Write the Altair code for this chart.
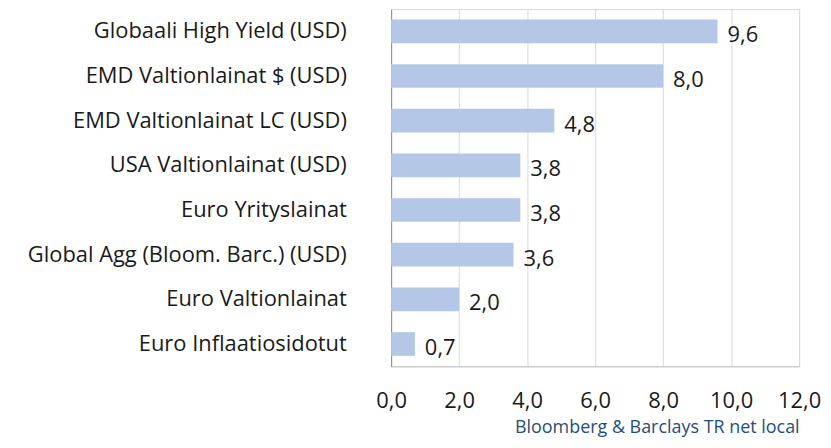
import altair as alt
import pandas as pd

categories = [
    "Globaali High Yield (USD)",
    "EMD Valtionlainat $ (USD)",
    "EMD Valtionlainat LC (USD)",
    "USA Valtionlainat (USD)",
    "Euro Yrityslainat",
    "Global Agg (Bloom. Barc.) (USD)",
    "Euro Valtionlainat",
    "Euro Inflaatiosidotut",
]
values = [9.6, 8.0, 4.8, 3.8, 3.8, 3.6, 2.0, 0.7]
x_ticks = [0, 2, 4, 6, 8, 10, 12]
source = "Bloomberg & Barclays TR net local"

df = pd.DataFrame({"cat": categories, "val": values})
FONT = "Open Sans"

base = alt.Chart(df).transform_calculate(
    lbl="replace(format(datum.val, '.1f'), '.', ',')"
)

y = alt.Y("cat:N", sort=categories, title=None,
          scale=alt.Scale(paddingInner=0.47, paddingOuter=0.235),
          axis=alt.Axis(labelFont=FONT, labelFontSize=22, labelColor="#1a1a1a",
                        labelPadding=45, ticks=False, domainColor="#8c8c8c",
                        labelLimit=400))

bars = base.mark_bar(color="#b4c7e7").encode(
    x=alt.X("val:Q", scale=alt.Scale(domain=[0, 12], nice=False),
            axis=alt.Axis(values=x_ticks, grid=True, gridColor="#d9d9d9",
                          ticks=False, domainColor="#bfbfbf", labelFlush=False,
                          labelOverlap=False,
                          labelExpr="replace(format(datum.value, '.1f'), '.', ',')",
                          labelFont=FONT, labelFontSize=22, labelColor="#1a1a1a",
                          labelPadding=24,
                          title=source, titleFont=FONT, titleFontSize=18,
                          titleFontWeight="normal", titleColor="#1f4e79",
                          titleAnchor="end", titlePadding=8)),
    y=y,
)

labels = base.mark_text(align="left", baseline="middle", dx=10, dy=4,
                        font=FONT, fontSize=22, color="#1a1a1a").encode(
    x="val:Q", y=alt.Y("cat:N", sort=categories), text="lbl:N"
)

chart = (bars + labels).properties(
    width=410, height=359,
    autosize=alt.AutoSizeParams(type="none"),
    padding={"left": 385, "top": 0, "right": 24, "bottom": 73},
).configure_view(stroke=None).configure(background="white")

chart.save("out.html", embed_options={"renderer": "svg", "actions": False})
